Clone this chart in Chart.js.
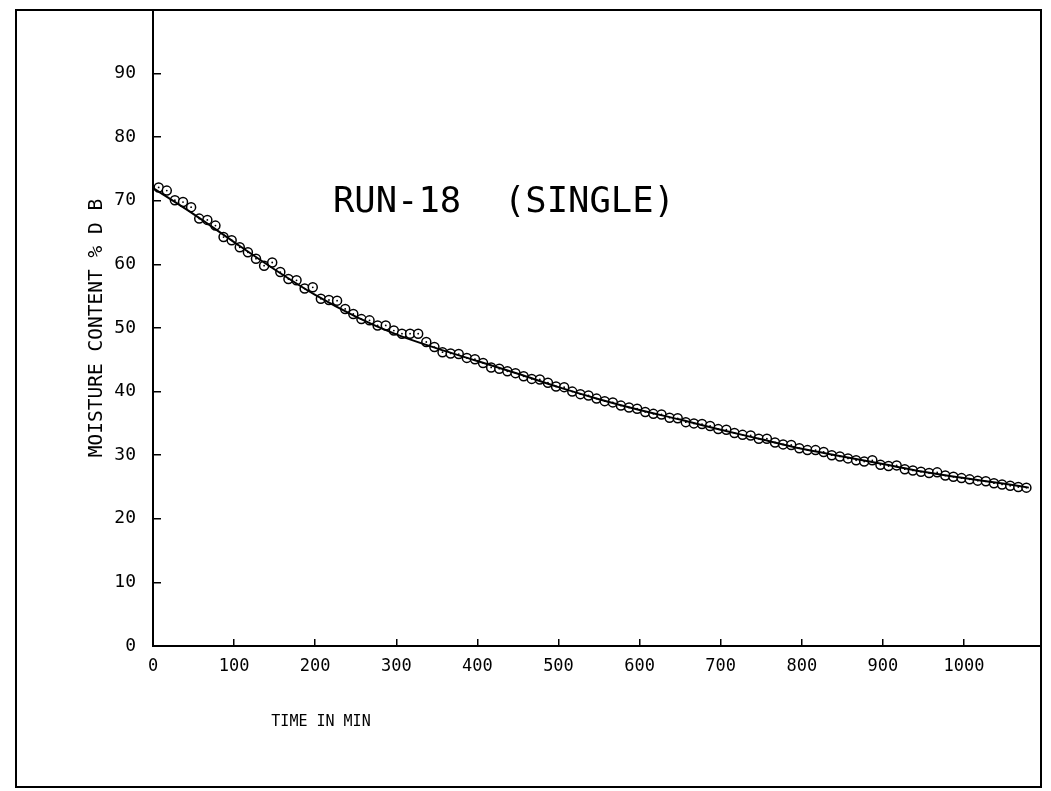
<!DOCTYPE html>
<html>
<head>
<meta charset="utf-8">
<script src="https://cdn.jsdelivr.net/npm/chart.js@4/dist/chart.umd.min.js"></script>
<style>
html,body{margin:0;padding:0;background:#fff;}
#wrap{width:1051px;height:791px;position:relative;}
</style>
</head>
<body>
<div id="wrap"><canvas id="c" width="1051" height="791"></canvas></div>
<script>
// Observed data (time in min, moisture content % d.b.)
const obsTime = [7,17,27,37,47,57,67,77,87,97,107,117,127,137,147,157,167,177,187,197,
  207,217,227,237,247,257,267,277,287,297,307,317,327,337,347,357,
  367,377,387,397,407,417,427,437,447,457,467,477,487,497,507,517,527,537,547,557,567,577,587,597,
  607,617,627,637,647,657,667,677,687,697,707,717,727,737,747,757,767,777,787,797,
  807,817,827,837,847,857,867,877,887,897,907,917,927,937,947,957,967,977,987,997,
  1007,1017,1027,1037,1047,1057,1067,1077];
const obsMoisture = [72.1,71.6,70.1,69.8,69.0,67.2,67.0,66.1,64.3,63.8,62.7,61.9,60.9,59.8,60.3,58.8,57.7,57.5,56.2,56.4,
  54.6,54.4,54.3,53.0,52.2,51.4,51.2,50.4,50.4,49.6,49.1,49.1,49.1,47.8,47.0,46.2,
  46.0,45.9,45.3,45.1,44.5,43.8,43.6,43.2,42.9,42.4,42.0,41.9,41.4,40.8,40.7,40.0,39.6,39.4,38.9,38.5,38.3,37.8,37.5,37.3,
  36.8,36.5,36.4,35.9,35.8,35.2,35.0,34.9,34.6,34.1,34.0,33.5,33.2,33.1,32.6,32.6,32.0,31.7,31.6,31.1,
  30.8,30.8,30.5,30.0,29.8,29.5,29.2,29.0,29.2,28.5,28.3,28.4,27.8,27.6,27.4,27.2,27.3,26.8,26.6,26.4,
  26.2,26.0,25.9,25.6,25.4,25.2,25.0,24.9];
// Fitted curve
const fitTime = [0,50,100,150,200,250,300,350,400,450,500,550,600,650,700,750,800,850,900,950,1000,1050,1080];
const fitMoisture = [72.0,67.9,63.5,59.2,55.2,51.8,49.0,46.8,44.8,42.8,40.7,38.8,37.1,35.6,34.0,32.5,31.0,29.8,28.6,27.4,26.4,25.5,24.9];
// Tick labels
const xTicks = [0,100,200,300,400,500,600,700,800,900,1000];
const yTicks = [0,10,20,30,40,50,60,70,80,90];
const chartTitle = 'RUN-18  (SINGLE)';
const xTitle = 'TIME IN MIN';
const yTitle = 'MOISTURE CONTENT % D B';

const obsPts = obsTime.map((t,i)=>({x:t,y:obsMoisture[i]}));
const fitPts = fitTime.map((t,i)=>({x:t,y:fitMoisture[i]}));

Chart.defaults.font.family = "'DejaVu Sans Mono', monospace";
Chart.defaults.color = '#000';

const framePlugin = {
  id:'frame',
  afterDraw(chart){
    const ctx = chart.ctx;
    ctx.save();
    ctx.strokeStyle = '#000';
    ctx.lineWidth = 2;
    ctx.strokeRect(16,10,1025,777);
    // in-plot annotation text
    ctx.fillStyle = '#000';
    ctx.font = "35.5px 'DejaVu Sans Mono'";
    ctx.textAlign = 'left';
    ctx.textBaseline = 'alphabetic';
    ctx.fillText(chartTitle, 333, 212);
    ctx.font = "15px 'DejaVu Sans Mono'";
    ctx.textAlign = 'center';
    ctx.textBaseline = 'middle';
    ctx.fillText(xTitle, 321, 722);
    ctx.restore();
  }
};

new Chart(document.getElementById('c'), {
  type:'scatter',
  data:{
    datasets:[
      {label:'fit', data:fitPts, showLine:true, borderColor:'#000', borderWidth:2,
       pointRadius:0, cubicInterpolationMode:'monotone', fill:false, order:1},
      {label:'observed', data:obsPts, showLine:false, pointStyle:'circle', pointRadius:4.5,
       borderColor:'#000', borderWidth:1.5, backgroundColor:'rgba(255,255,255,0.9)', order:2},
      {label:'dots', data:obsPts, showLine:false, pointRadius:0.9, borderWidth:0,
       backgroundColor:'#000', order:0}
    ]
  },
  options:{
    responsive:false,
    animation:false,
    layout:{padding:{top:10,right:10,left:0,bottom:0}},
    plugins:{legend:{display:false},tooltip:{enabled:false},title:{display:false}},
    scales:{
      x:{
        type:'linear', min:0, max:1095,
        afterFit(s){ s.height = 145; s.paddingLeft = 0; s.paddingRight = 0; },
        afterBuildTicks(s){ s.ticks = xTicks.map(v=>({value:v})); },
        ticks:{ includeBounds:false, padding:17, font:{size:17}, maxRotation:0, autoSkip:false,
          callback:(v)=>String(v) },
        grid:{ drawOnChartArea:false, drawTicks:true, tickLength:-7, color:'#000', lineWidth:1.5 },
        border:{ display:true, color:'#000', width:2 }
      },
      y:{
        type:'linear', min:0, max:100,
        afterFit(s){ s.width = 153; s.paddingTop = 0; s.paddingBottom = 0; },
        afterBuildTicks(s){ s.ticks = yTicks.map(v=>({value:v})); },
        ticks:{ padding:25, font:{size:18}, autoSkip:false, callback:(v)=>String(v) },
        grid:{ drawOnChartArea:false, drawTicks:true, tickLength:-8, color:'#000', lineWidth:1.5 },
        border:{ display:true, color:'#000', width:2 },
        title:{ display:true, text:yTitle, font:{size:19.5}, padding:{top:85,bottom:0} }
      }
    }
  },
  plugins:[framePlugin]
});
</script>
</body>
</html>
